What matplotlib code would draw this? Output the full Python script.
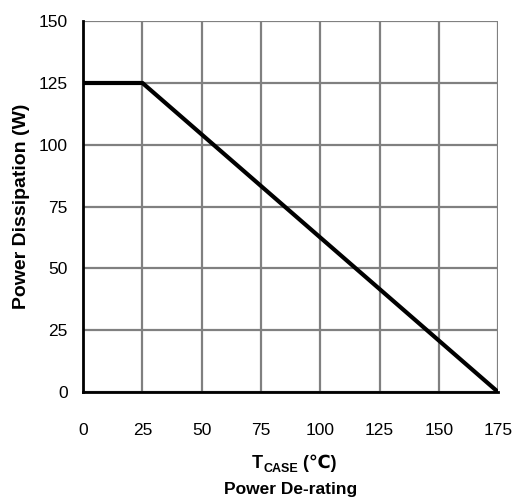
import matplotlib
matplotlib.use("Agg")
import matplotlib.pyplot as plt

# Data
temp_c = [0, 25, 175]
power_w = [125, 125, 0]
x_ticks = [0, 25, 50, 75, 100, 125, 150, 175]
y_ticks = [0, 25, 50, 75, 100, 125, 150]

plt.rcParams['font.family'] = ['Liberation Sans', 'DejaVu Sans']

fig = plt.figure(figsize=(5.2, 5.04), dpi=100)
ax = fig.add_axes([0.160, 0.222, 0.798, 0.736])

ax.plot(temp_c, power_w, color='black', lw=3.0, solid_capstyle='round', zorder=3)
ax.set_xlim(0, 175)
ax.set_ylim(0, 150)
ax.set_xticks(x_ticks)
ax.set_yticks(y_ticks)
ax.grid(True, color='#808080', lw=1.6)
ax.set_axisbelow(True)
for s in ['top', 'right']:
    ax.spines[s].set_visible(False)
for s in ['left', 'bottom']:
    ax.spines[s].set_color('black')
    ax.spines[s].set_linewidth(2.0)
    ax.spines[s].set_zorder(4)
ax.tick_params(length=0, labelsize=12.5)
ax.tick_params(axis='x', pad=22)
ax.tick_params(axis='y', pad=11)

ax.set_ylabel('Power Dissipation (W)', fontsize=14, fontweight='bold', labelpad=6)

# x-axis label "T_CASE (℃)" built from pieces
renderer = fig.canvas.get_renderer()
t1 = fig.text(0, 0.072, 'T', ha='left', va='baseline', fontsize=13, fontweight='bold')
t2 = fig.text(0, 0.064, 'CASE', ha='left', va='baseline', fontsize=9, fontweight='bold')
t3 = fig.text(0, 0.072, ' (℃)', ha='left', va='baseline', fontsize=13, fontweight='bold',
              family=['Liberation Sans', 'DejaVu Sans'])
widths = [t.get_window_extent(renderer).width / fig.bbox.width for t in (t1, t2, t3)]
x0 = 0.566 - sum(widths) / 2
for t, w in zip((t1, t2, t3), widths):
    t.set_x(x0)
    x0 += w

fig.text(0.558, 0.028, 'Power De-rating', ha='center', va='center',
         fontsize=12.5, fontweight='bold')

fig.savefig('out.png', dpi=100)
